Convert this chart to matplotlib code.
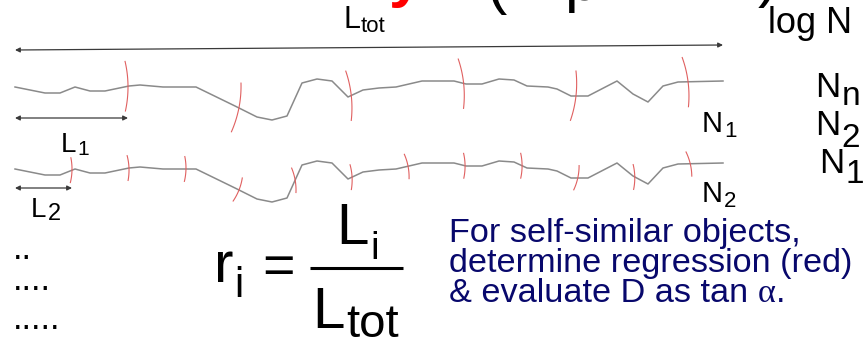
import numpy as np
import matplotlib
matplotlib.use("Agg")
import matplotlib.pyplot as plt

plt.rcParams['font.family'] = ['Liberation Sans', 'DejaVu Sans']

# profile of the coastline-like curve (upper copy), pixel units
curve_x = [15, 45, 60, 75, 90, 105, 129, 140, 163, 196, 235, 257, 272, 287, 302, 317,
           332, 348, 363, 379, 396, 422, 454, 466, 482, 499, 514, 527, 548, 557, 571,
           588, 617, 633, 648, 663, 678, 723]
curve_y = [87, 93, 93, 87, 91, 91, 86, 85, 87, 87, 106, 117, 120, 116, 83, 79,
           81, 97, 90, 88, 87, 81, 81, 84, 84, 79, 80, 86, 87, 89, 96,
           96, 81, 94, 102, 86, 82, 81]
# compass openings for the two measurements
step_L1 = 113
step_L2 = 57

fig = plt.figure(figsize=(8.63, 3.47), dpi=100)
ax = fig.add_axes([0, 0, 1, 1])
ax.set_xlim(0, 863)
ax.set_ylim(347, 0)
ax.axis('off')
renderer = fig.canvas.get_renderer()

GREY = '#8a8a8a'
RED = '#e06060'
NAVY = '#08086c'


def compass_walk(x, y, r):
    # walk the polyline with a fixed opening, return the centres used
    x = np.asarray(x, float)
    y = np.asarray(y, float)
    seg = np.hypot(np.diff(x), np.diff(y))
    s = np.concatenate([[0], np.cumsum(seg)])
    ss = np.linspace(0, s[-1], 20000)
    px = np.interp(ss, s, x)
    py = np.interp(ss, s, y)
    pts = [(px[0], py[0])]
    i = 0
    while True:
        d = np.hypot(px[i:] - pts[-1][0], py[i:] - pts[-1][1])
        hit = np.nonzero(d >= r)[0]
        if len(hit) == 0:
            break
        i = i + hit[0]
        pts.append((px[i], py[i]))
    return pts


def draw_curve(dy, r, half):
    yy = np.asarray(curve_y) + dy
    ax.plot(curve_x, yy, color=GREY, lw=1.1, solid_joinstyle='round', zorder=2)
    pts = compass_walk(curve_x, yy, r)
    for (cx, cy), (hx, hy) in zip(pts[:-1], pts[1:]):
        th = np.arctan2(hy - cy, hx - cx)
        phi = np.linspace(th - half / r, th + half / r, 30)
        ax.plot(cx + r * np.cos(phi), cy + r * np.sin(phi), color=RED, lw=0.8, zorder=3)


def arrow(x0, y0, x1, y1):
    ax.annotate('', xy=(x1, y1), xytext=(x0, y0),
                arrowprops=dict(arrowstyle='<|-|>', color='#3a3a3a', lw=0.9,
                                mutation_scale=7, shrinkA=0, shrinkB=0))


def label(x, y, base, sub, size, sub_size, drop, color='black', ha='left'):
    t = ax.text(x, y, base, fontsize=size, color=color, va='baseline', ha='left')
    w = t.get_window_extent(renderer).width
    s = ax.text(x + w + 1, y + drop, sub, fontsize=sub_size, color=color, va='baseline')
    if ha == 'center':
        ws = s.get_window_extent(renderer).width
        shift = (w + ws) / 2
        t.set_x(x - shift)
        s.set_x(x - shift + w + 1)


# the two curves with their compass arcs
draw_curve(0, step_L1, 25)
draw_curve(82, step_L2, 12.5)

# dimension arrows
arrow(15, 50, 723, 45)
arrow(15, 118, 128, 118)
arrow(15, 188, 72, 188)

# remains of the slide heading, only the descenders show
for ch, xx, yy, col in [('y', 389, 8, 'red'), ('(', 486, 15, 'black'),
                        ('p', 564, 13, 'black'), (')', 758, 8, 'black')]:
    ax.text(xx, yy, ch, fontsize=44, color=col, va='bottom',
            fontweight='bold' if col == 'red' else 'normal')

label(343, 28, 'L', 'tot', 22, 16, 4)
label(702, 132, 'N', '1', 21, 16, 5)
label(702, 202, 'N', '2', 21, 16, 5)
label(61, 152, 'L', '1', 20, 15, 3)
label(31, 217, 'L', '2', 20, 17, 3)

ax.text(768, 33, 'log N', fontsize=26, va='baseline')
label(815, 97, 'N', 'n', 25, 24, 8)
label(815, 135, 'N', '2', 25, 24, 12)
label(819, 173, 'N', '1', 25, 24, 10)

for dots, yy in [('..', 259), ('....', 290), ('.....', 329)]:
    ax.text(13, yy, dots, fontsize=25, va='baseline')

# r_i = L_i / L_tot
label(214, 282, 'r', 'i', 42, 30, 15)
ax.text(262, 283, '=', fontsize=40, va='baseline')
ax.plot([310, 403], [268, 268], color='black', lw=2.2, solid_capstyle='butt')
label(357, 244, 'L', 'i', 42, 28, 15, ha='center')
label(355, 328, 'L', 'tot', 42, 34, 9, ha='center')

FS = 24.7
ax.text(449, 242, 'For self-similar objects,', fontsize=FS, color=NAVY, va='baseline')
ax.text(449, 272, 'determine regression (red)', fontsize=FS, color=NAVY, va='baseline')
t3 = ax.text(449, 302, '& evaluate D as tan ', fontsize=FS, color=NAVY, va='baseline')
xa = 449 + t3.get_window_extent(renderer).width
ta = ax.text(xa, 302, '\u03b1', fontsize=FS, color=NAVY, va='baseline',
             family='Liberation Serif')
ax.text(xa + ta.get_window_extent(renderer).width, 302, '.', fontsize=FS,
        color=NAVY, va='baseline')

fig.savefig('out.png', dpi=100)
